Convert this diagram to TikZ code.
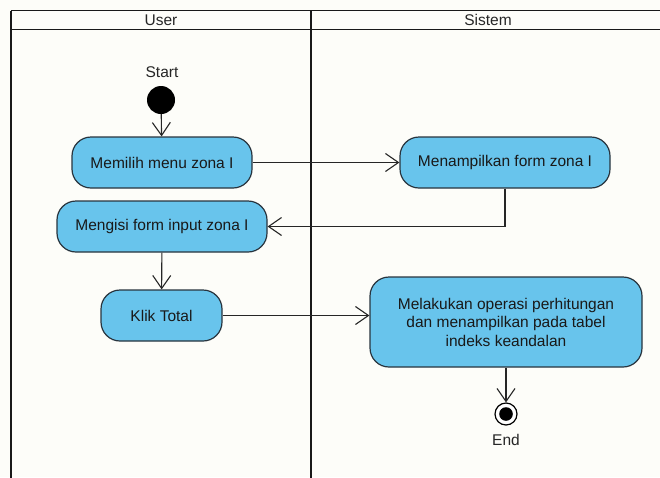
\documentclass[tikz,border=0pt]{standalone}
\usepackage{fontspec}
\setmainfont{Liberation Sans}
\usetikzlibrary{arrows.meta,calc}
\definecolor{paper}{RGB}{253,253,249}
\definecolor{actfill}{RGB}{104,196,236}
\definecolor{actedge}{RGB}{40,52,62}
\definecolor{laneline}{RGB}{25,25,25}
\tikzset{
  lane/.style={draw=laneline,line width=1.9pt},
  act/.style={draw=actedge,line width=1.2pt,fill=actfill,rounded corners=19pt,
    inner sep=0pt,align=center,font=\fontsize{15.5}{18.5}\selectfont,text=black!90},
  flow/.style={draw=black!85,line width=1.1pt,
    -{Straight Barb[length=13pt,width=18pt,line width=1.1pt]}},
  lbl/.style={font=\fontsize{15.5}{18.5}\selectfont,text=black!85,inner sep=0pt},
}
\begin{document}
\begin{tikzpicture}[x=1pt,y=-1pt]
  % page and swimlane frame
  \fill[paper] (0,0) rectangle (660,477);
  \useasboundingbox (0,0) rectangle (660,477);
  \draw[lane] (11,10.5) -- (662,10.5);
  \draw[lane] (11,29.5) -- (662,29.5);
  \draw[lane] (11,10.5) -- (11,479);
  \draw[lane] (311,10.5) -- (311,479);
  \node[lbl] (hUser) at (161,20) {User};
  \node[lbl] (hSistem) at (488,20) {Sistem};

  % initial node
  \node[lbl] (startlbl) at (162,72) {Start};
  \node[circle,fill=black,minimum size=28pt,inner sep=0pt] (start) at (161,100) {};

  % activities
  \node[act,minimum width=180pt,minimum height=51pt] (pilih) at (162,162.5) {Memilih menu zona I};
  \node[act,minimum width=210pt,minimum height=51pt] (tampil) at (505,162.5) {Menampilkan form zona I};
  \node[act,minimum width=210pt,minimum height=51pt] (isi) at (162,226.5) {Mengisi form input zona I};
  \node[act,minimum width=121pt,minimum height=51pt] (klik) at (161.5,315.5) {Klik Total};
  \node[act,minimum width=272pt,minimum height=90pt] (hitung) at (506,322)
    {Melakukan operasi perhitungan\\dan menampilkan pada tabel\\indeks keandalan};

  % final node
  \node[circle,draw=black,line width=1.2pt,fill=white,minimum size=22pt,inner sep=0pt] (end) at (506,414) {};
  \fill[black] (end.center) circle (6.8pt);
  \node[lbl] (endlbl) at (506,440) {End};

  % control flows
  \draw[flow] (start) -- (pilih);
  \draw[flow] (pilih) -- (tampil);
  \draw[flow] (tampil.south) |- (isi.east);
  \draw[flow] (isi) -- (klik);
  \draw[flow] (klik.east) -- (klik.east -| hitung.west);
  \draw[flow] (hitung.south -| end) -- (end);
\end{tikzpicture}
\end{document}
